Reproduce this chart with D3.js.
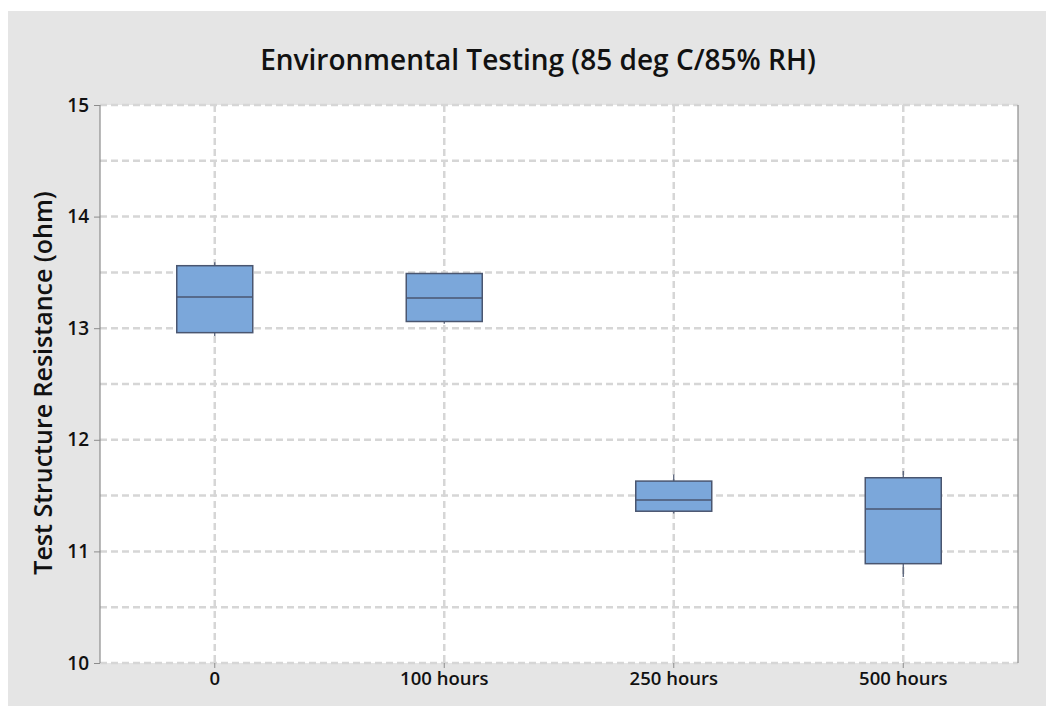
<!DOCTYPE html>
<html>
<head>
<meta charset="utf-8">
<script src="https://cdn.jsdelivr.net/npm/d3@7"></script>
<style>
  body { margin: 0; background: #ffffff; }
  text { font-family: "Open Sans", "Noto Sans", sans-serif; fill: #111; }
</style>
</head>
<body>
<svg id="chart"></svg>
<script>
// values
const categories = ['0', '100 hours', '250 hours', '500 hours'];
const whiskerLow = [12.93, 13.04, 11.34, 10.77];
const q1 = [12.96, 13.06, 11.36, 10.89];
const medians = [13.28, 13.27, 11.46, 11.38];
const q3 = [13.56, 13.49, 11.63, 11.66];
const whiskerHigh = [13.59, 13.49, 11.69, 11.72];
const yTicks = [10, 11, 12, 13, 14, 15];
const yGrid = [10, 10.5, 11, 11.5, 12, 12.5, 13, 13.5, 14, 14.5, 15];

const width = 1048, height = 706;
const margin = { top: 105, right: 30, bottom: 43, left: 100 };

const svg = d3.select('#chart')
    .attr('width', width)
    .attr('height', height);

svg.append('rect')
    .attr('x', 8).attr('y', 11)
    .attr('width', 1038).attr('height', height - 11)
    .attr('fill', '#e5e5e5');

const x = d3.scaleBand()
    .domain(categories)
    .range([margin.left, width - margin.right])
    .padding(0);

const y = d3.scaleLinear()
    .domain([10, 15])
    .range([height - margin.bottom, margin.top]);

const data = categories.map((c, i) => ({
    cat: c, lo: whiskerLow[i], q1: q1[i], med: medians[i], q3: q3[i], hi: whiskerHigh[i]
}));

// plot area
svg.append('rect')
    .attr('x', margin.left).attr('y', margin.top)
    .attr('width', width - margin.left - margin.right)
    .attr('height', height - margin.top - margin.bottom)
    .attr('fill', '#ffffff');

const cx = d => x(d) + x.bandwidth() / 2;

// grid
svg.append('g').selectAll('line')
    .data(yGrid)
    .enter().append('line')
    .attr('x1', margin.left).attr('x2', width - margin.right)
    .attr('y1', d => y(d)).attr('y2', d => y(d))
    .attr('stroke', '#d6d6d6')
    .attr('stroke-width', 2.5)
    .attr('stroke-dasharray', '7,4');

svg.append('g').selectAll('line')
    .data(categories)
    .enter().append('line')
    .attr('x1', cx).attr('x2', cx)
    .attr('y1', margin.top).attr('y2', height - margin.bottom)
    .attr('stroke', '#d6d6d6')
    .attr('stroke-width', 2.5)
    .attr('stroke-dasharray', '7,4');

// frame: left and right solid
svg.append('line')
    .attr('x1', margin.left).attr('x2', margin.left)
    .attr('y1', margin.top).attr('y2', height - margin.bottom)
    .attr('stroke', '#8c8c8c').attr('stroke-width', 1.2);
svg.append('line')
    .attr('x1', width - margin.right).attr('x2', width - margin.right)
    .attr('y1', margin.top).attr('y2', height - margin.bottom)
    .attr('stroke', '#8c8c8c').attr('stroke-width', 1.2);

// y axis
const yAxis = svg.append('g')
    .attr('transform', `translate(${margin.left},0)`)
    .call(d3.axisLeft(y).tickValues(yTicks).tickSize(6).tickPadding(5).tickFormat(d3.format('d')));
yAxis.select('.domain').remove();
yAxis.selectAll('line').attr('stroke', '#8c8c8c');
yAxis.selectAll('text')
    .style('font-size', '19px')
    .style('font-weight', '600')
    .attr('fill', '#111');

// x axis
const xAxis = svg.append('g')
    .attr('transform', `translate(0,${height - margin.bottom})`)
    .call(d3.axisBottom(x).tickSize(5).tickPadding(4));
xAxis.select('.domain').remove();
xAxis.selectAll('line').attr('stroke', '#8c8c8c');
xAxis.selectAll('text')
    .style('font-size', '18.5px')
    .style('font-weight', '600')
    .attr('fill', '#111');

// boxes
const boxW = 76;
const boxes = svg.append('g').selectAll('g')
    .data(data)
    .enter().append('g');

boxes.append('line')
    .attr('x1', d => cx(d.cat)).attr('x2', d => cx(d.cat))
    .attr('y1', d => y(d.hi)).attr('y2', d => y(d.q3))
    .attr('stroke', '#4a5670').attr('stroke-width', 1.2);
boxes.append('line')
    .attr('x1', d => cx(d.cat)).attr('x2', d => cx(d.cat))
    .attr('y1', d => y(d.q1)).attr('y2', d => y(d.lo))
    .attr('stroke', '#4a5670').attr('stroke-width', 1.2);

boxes.append('rect')
    .attr('x', d => cx(d.cat) - boxW / 2)
    .attr('y', d => y(d.q3))
    .attr('width', boxW)
    .attr('height', d => y(d.q1) - y(d.q3))
    .attr('fill', '#7ba7da')
    .attr('stroke', '#4a5670')
    .attr('stroke-width', 1.5);

boxes.append('line')
    .attr('x1', d => cx(d.cat) - boxW / 2).attr('x2', d => cx(d.cat) + boxW / 2)
    .attr('y1', d => y(d.med)).attr('y2', d => y(d.med))
    .attr('stroke', '#4a5670').attr('stroke-width', 1.5);

// title
svg.append('text')
    .attr('x', 538).attr('y', 70)
    .attr('text-anchor', 'middle')
    .style('font-size', '28px')
    .style('font-weight', '600')
    .text('Environmental Testing (85 deg C/85% RH)');

// y label
svg.append('text')
    .attr('transform', `translate(52,${(margin.top + height - margin.bottom) / 2 - 1}) rotate(-90)`)
    .attr('text-anchor', 'middle')
    .style('font-size', '25px')
    .style('font-weight', '600')
    .text('Test Structure Resistance (ohm)');
</script>
</body>
</html>
